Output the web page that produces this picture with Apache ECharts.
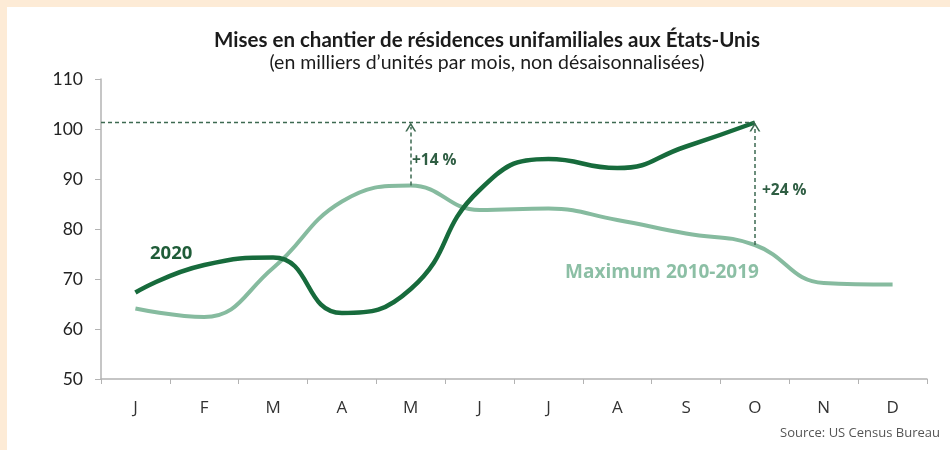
<!DOCTYPE html>
<html>
<head>
<meta charset="utf-8">
<script src="https://cdn.jsdelivr.net/npm/echarts@6/dist/echarts.min.js"></script>
<style>
  html, body { margin: 0; padding: 0; }
  #frame { position: relative; width: 950px; height: 450px; background: #fdebd6; overflow: hidden; }
  #panel { position: absolute; left: 7px; top: 7px; right: 0; bottom: 0; background: #fff; }
  #chart { position: absolute; left: 0; top: 0; width: 950px; height: 450px; }
</style>
</head>
<body>
<div id="frame">
  <div id="panel"></div>
  <div id="chart"></div>
</div>
<script>
var months = ['J', 'F', 'M', 'A', 'M', 'J', 'J', 'A', 'S', 'O', 'N', 'D'];
// mises en chantier 2020 (jan -> oct)
var starts2020 = [67.3, 72.8, 74.3, 63.2, 68.0, 87.8, 94.0, 92.2, 96.5, 101.3];
// maximum 2010-2019
var max2010_2019 = [64.1, 62.4, 72.2, 85.5, 88.7, 83.8, 84.1, 81.8, 79.1, 76.8, 69.2, 68.9];
var yTicks = [50, 60, 70, 80, 90, 100, 110];

var dark = '#176b3c';
var light = '#86bb9f';
var dash = '#3d6a51';

var peakIdx = starts2020.length - 1;      // octobre
var peak = starts2020[peakIdx];
var prevPeakIdx = 4;                      // mai, max de la série 2010-2019

var chart = echarts.init(document.getElementById('chart'));

var option = {
  animation: false,
  title: {
    text: 'Mises en chantier de résidences unifamiliales aux États-Unis',
    subtext: '(en milliers d\u2019unités par mois, non désaisonnalisées)',
    left: 482,
    top: 25,
    textAlign: 'center',
    itemGap: 2,
    textStyle: { fontFamily: 'Lato', fontWeight: 'bold', fontSize: 20.5, color: '#1b1b1b' },
    subtextStyle: { fontFamily: 'Lato', fontSize: 19.5, color: '#1b1b1b' }
  },
  grid: { left: 101, right: 23, top: 79, bottom: 71 },
  xAxis: [
    {
      type: 'category',
      data: months,
      boundaryGap: true,
      axisLine: { lineStyle: { color: '#b3b3b3', width: 1.5 } },
      axisTick: { show: true, length: 5, lineStyle: { color: '#b3b3b3' } },
      axisLabel: { color: '#333', fontSize: 17, fontFamily: 'Open Sans', margin: 21 }
    },
    {
      type: 'value',
      min: 0,
      max: months.length,
      show: false
    }
  ],
  yAxis: {
    type: 'value',
    min: yTicks[0],
    max: yTicks[yTicks.length - 1],
    interval: 10,
    axisLine: { show: true, lineStyle: { color: '#b3b3b3', width: 1.5 } },
    axisTick: { show: true, length: 6, lineStyle: { color: '#b3b3b3' } },
    splitLine: { show: false },
    axisLabel: { color: '#222', fontSize: 17.5, fontFamily: 'Lato', margin: 18 }
  },
  series: [
    {
      name: 'Maximum 2010-2019',
      type: 'line',
      data: max2010_2019,
      smooth: 0.45,
      showSymbol: false,
      lineStyle: { color: light, width: 4 },
      z: 2
    },
    {
      name: '2020',
      type: 'line',
      data: starts2020,
      smooth: 0.5,
      showSymbol: false,
      lineStyle: { color: dark, width: 4.5 },
      z: 3
    },
    {
      // repères pointillés
      name: 'repere',
      type: 'line',
      xAxisIndex: 1,
      data: [[0, peak], [peakIdx + 0.5, peak]],
      showSymbol: false,
      lineStyle: { color: dash, width: 1.5, type: [4, 3] },
      z: 4,
      markLine: {
        silent: true,
        symbol: ['none', 'path://M0,10 L5,0 L10,10 L8.4,10 L5,3.2 L1.6,10 Z'],
        symbolSize: [11, 9],
        label: { show: false },
        lineStyle: { color: dash, width: 1.5, type: [4, 3] },
        data: [
          [{ coord: [prevPeakIdx + 0.5, max2010_2019[prevPeakIdx]] }, { coord: [prevPeakIdx + 0.5, peak - 0.9] }],
          [{ coord: [peakIdx + 0.5, max2010_2019[peakIdx]] }, { coord: [peakIdx + 0.5, peak - 0.9] }]
        ]
      }
    }
  ],
  graphic: [
    { type: 'text', left: 412, top: 153, style: { text: '+14 %', fontFamily: 'Open Sans', fontWeight: 'bold', fontSize: 15.5, fill: '#2f5e43' } },
    { type: 'text', left: 762, top: 183, style: { text: '+24 %', fontFamily: 'Open Sans', fontWeight: 'bold', fontSize: 15.5, fill: '#2f5e43' } },
    { type: 'text', left: 150, top: 244, style: { text: '2020', fontFamily: 'Open Sans', fontWeight: 'bold', fontSize: 18.5, fill: '#1f5c38' } },
    { type: 'text', left: 565, top: 263, style: { text: 'Maximum 2010-2019', fontFamily: 'Open Sans', fontWeight: 'bold', fontSize: 19, fill: '#8cbfa5' } },
    { type: 'text', right: 10, top: 427, style: { text: 'Source: US Census Bureau', fontFamily: 'Open Sans', fontSize: 13, fill: '#555' } }
  ]
};

chart.setOption(option);
</script>
</body>
</html>
